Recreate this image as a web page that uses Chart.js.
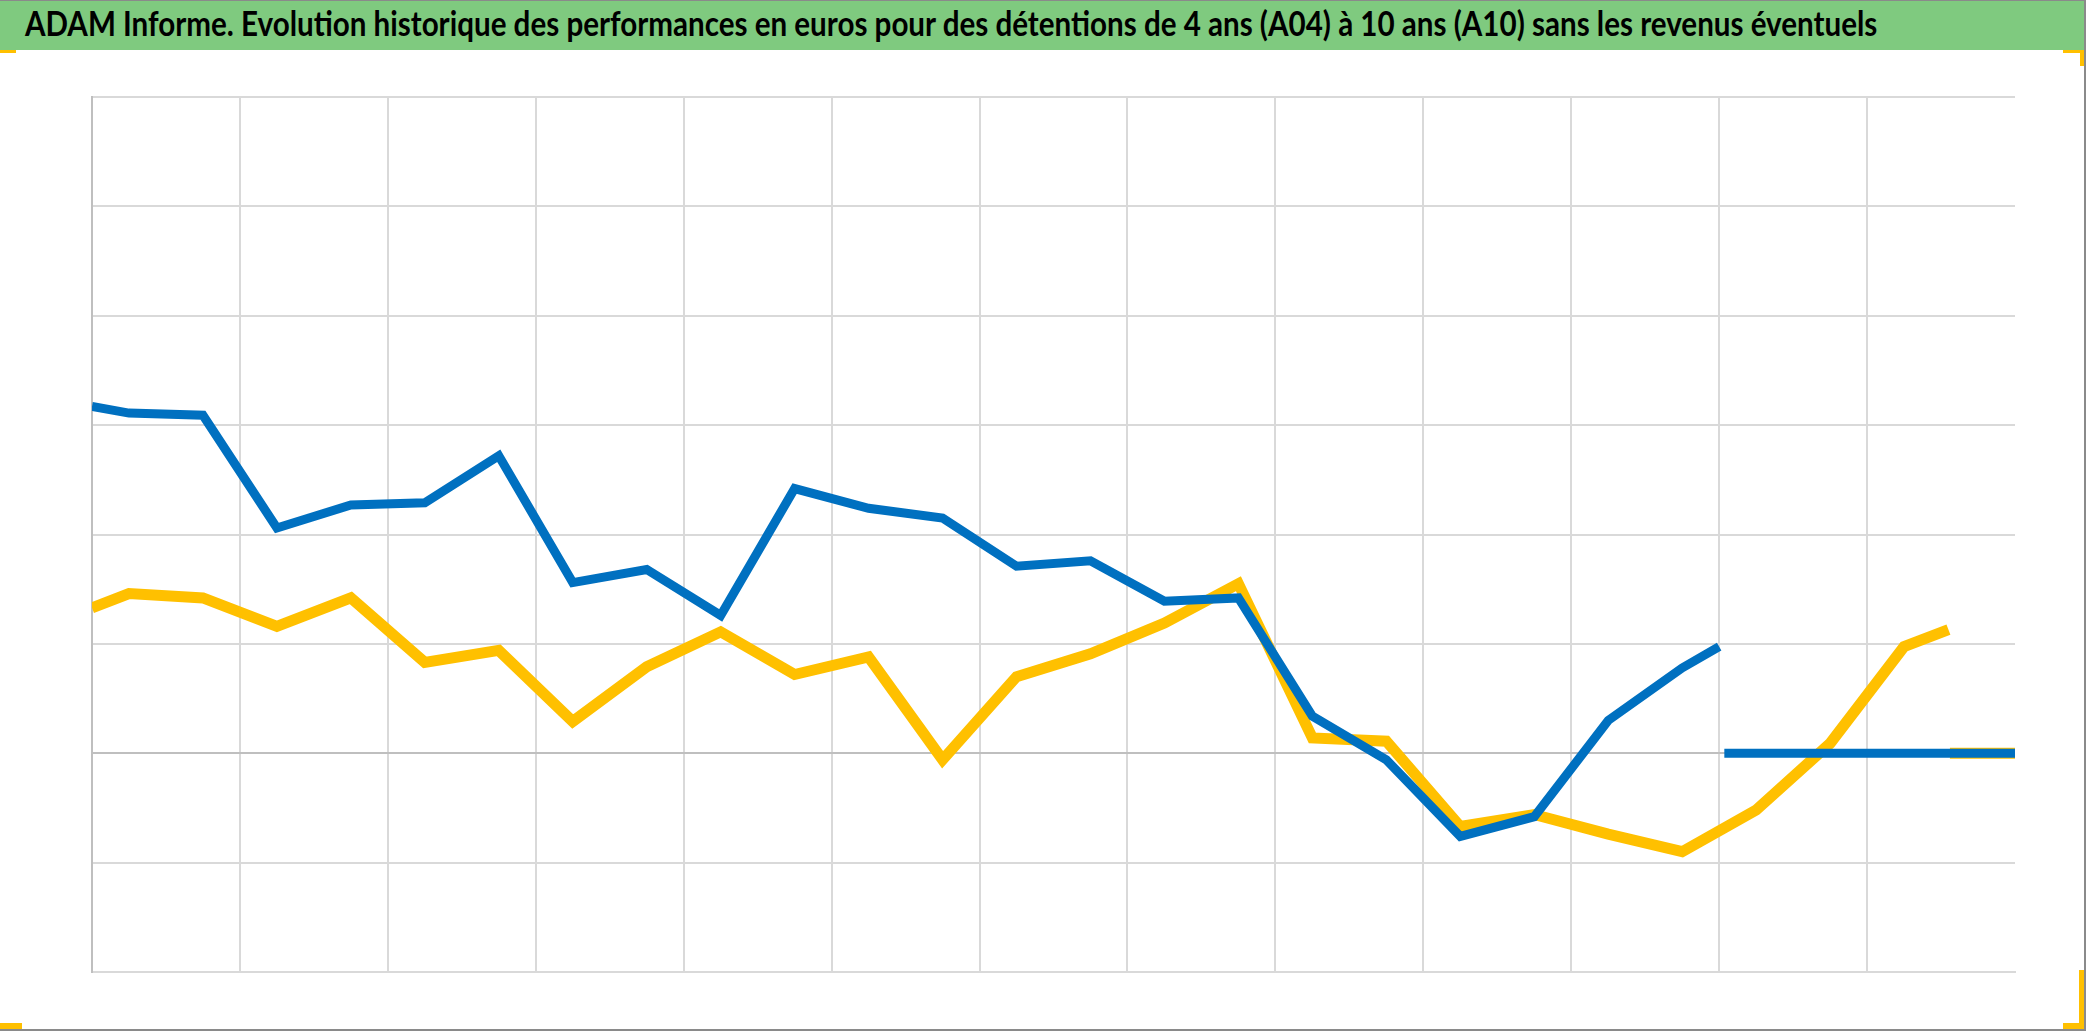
<!DOCTYPE html>
<html>
<head>
<meta charset="utf-8">
<script src="https://cdn.jsdelivr.net/npm/chart.js@4.4.0/dist/chart.umd.min.js"></script>
<style>
  html, body { margin: 0; padding: 0; background: #fff; }
  body { width: 2086px; height: 1031px; position: relative; overflow: hidden; }
  #titleBar {
    position: absolute; left: 0; top: 0; width: 2084px; height: 49px;
    background: #7fca7f; border-top: 1px solid #8a8a8a;
  }
  #titleText {
    position: absolute; left: 25px; top: 5px; white-space: nowrap;
    font: bold 34px Lato, "Open Sans", sans-serif; line-height: 34px; color: #000;
    transform-origin: 0 0;
  }
  #chartBox { position: absolute; left: 0; top: 0; }
  .frame { position: absolute; background: #8a8a8a; }
  .handle { position: absolute; background: #ffc000; }
</style>
</head>
<body>
<canvas id="chartBox" width="2086" height="1031"></canvas>
<div id="titleBar"><span id="titleText">ADAM Informe. Evolution historique des performances en euros pour des détentions de 4 ans (A04) à 10 ans (A10) sans les revenus éventuels</span></div>

<!-- frame lines and the yellow corner handles -->
<div class="frame" style="left:2084px;top:0;width:2px;height:1031px"></div>
<div class="frame" style="left:0;top:1029px;width:2086px;height:2px"></div>
<div class="handle" style="left:0;top:50px;width:16px;height:3px"></div>
<div class="handle" style="left:2063px;top:50px;width:21px;height:3px"></div>
<div class="handle" style="left:2080px;top:50px;width:4px;height:16px"></div>
<div class="handle" style="left:0;top:1023px;width:22px;height:6px"></div>
<div class="handle" style="left:2063px;top:1023px;width:21px;height:6px"></div>
<div class="handle" style="left:2079px;top:970px;width:5px;height:59px"></div>

<script>
// x positions (one unit = half a vertical grid cell), y values (one gridline = 10)
const a10X = [0, 0.5, 1.5, 2.5, 3.5, 4.5, 5.5, 6.5, 7.5, 8.5, 9.5, 10.5, 11.5, 12.5, 13.5, 14.5, 15.5, 16.5, 17.5, 18.5, 19.5, 20.5, 21.5, 22];
const a10Y = [31.7, 31.1, 30.9, 20.6, 22.7, 22.9, 27.2, 15.6, 16.8, 12.6, 24.2, 22.4, 21.5, 17.1, 17.6, 13.9, 14.2, 3.4, -0.6, -7.6, -5.8, 3.0, 7.8, 9.75];
const a10TailX = [22.07, 26];
const a10TailY = [0, 0];

const a04X = [0, 0.5, 1.5, 2.5, 3.5, 4.5, 5.5, 6.5, 7.5, 8.5, 9.5, 10.5, 11.5, 12.5, 13.5, 14.5, 15.5, 16.5, 17.5, 18.5, 19.5, 20.5, 21.5, 22.5, 23.5, 24.5, 25.1];
const a04Y = [13.3, 14.6, 14.2, 11.6, 14.2, 8.3, 9.4, 2.9, 7.9, 11.1, 7.2, 8.8, -0.6, 7.0, 9.1, 11.9, 15.5, 1.4, 1.1, -6.7, -5.6, -7.4, -9.0, -5.2, 0.9, 9.75, 11.3];
const a04TailX = [25.12, 26];
const a04TailY = [0, 0];

const xMin = 0, xMax = 26, xStep = 2;
const yMin = -20, yMax = 60, yStep = 10;

// fit the title to the width it has in the picture
const titleEl = document.getElementById('titleText');
const titleWidth = 1852;
titleEl.style.transform = 'scaleX(' + (titleWidth / titleEl.offsetWidth) + ')';

// series points, with a break before the flat zero tail
function buildPoints(xs, ys, tailX, tailY) {
  const pts = xs.map((x, i) => ({ x: x, y: ys[i] }));
  pts.push({ x: (xs[xs.length - 1] + tailX[0]) / 2, y: null });
  tailX.forEach((x, i) => pts.push({ x: x, y: tailY[i] }));
  return pts;
}

const ctx = document.getElementById('chartBox').getContext('2d');
new Chart(ctx, {
  type: 'line',
  data: {
    datasets: [
      {
        label: 'A10',
        data: buildPoints(a10X, a10Y, a10TailX, a10TailY),
        borderColor: '#0070c0',
        borderWidth: 9,
        pointRadius: 0,
        borderJoinStyle: 'miter',
        spanGaps: false,
        tension: 0
      },
      {
        label: 'A04',
        data: buildPoints(a04X, a04Y, a04TailX, a04TailY),
        borderColor: '#ffc000',
        borderWidth: 11,
        pointRadius: 0,
        borderJoinStyle: 'miter',
        spanGaps: false,
        tension: 0
      }
    ]
  },
  options: {
    responsive: false,
    animation: false,
    events: [],
    layout: { padding: { left: 92, top: 97, right: 71, bottom: 59 } },
    plugins: { legend: { display: false }, title: { display: false }, tooltip: { enabled: false } },
    scales: {
      x: {
        type: 'linear',
        min: xMin, max: xMax,
        ticks: { display: false, stepSize: xStep },
        grid: {
          drawTicks: false,
          lineWidth: 2,
          color: c => (c.tick && c.tick.value === xMax) ? 'rgba(0,0,0,0)' : '#d9d9d9'
        },
        border: { color: '#d9d9d9', width: 2 }
      },
      y: {
        min: yMin, max: yMax,
        ticks: { display: false, stepSize: yStep },
        grid: {
          drawTicks: false,
          lineWidth: 2,
          color: c => (c.tick && c.tick.value === 0) ? '#bfbfbf' : '#d9d9d9'
        },
        border: { color: '#bfbfbf', width: 2 }
      }
    }
  }
});
</script>
</body>
</html>
